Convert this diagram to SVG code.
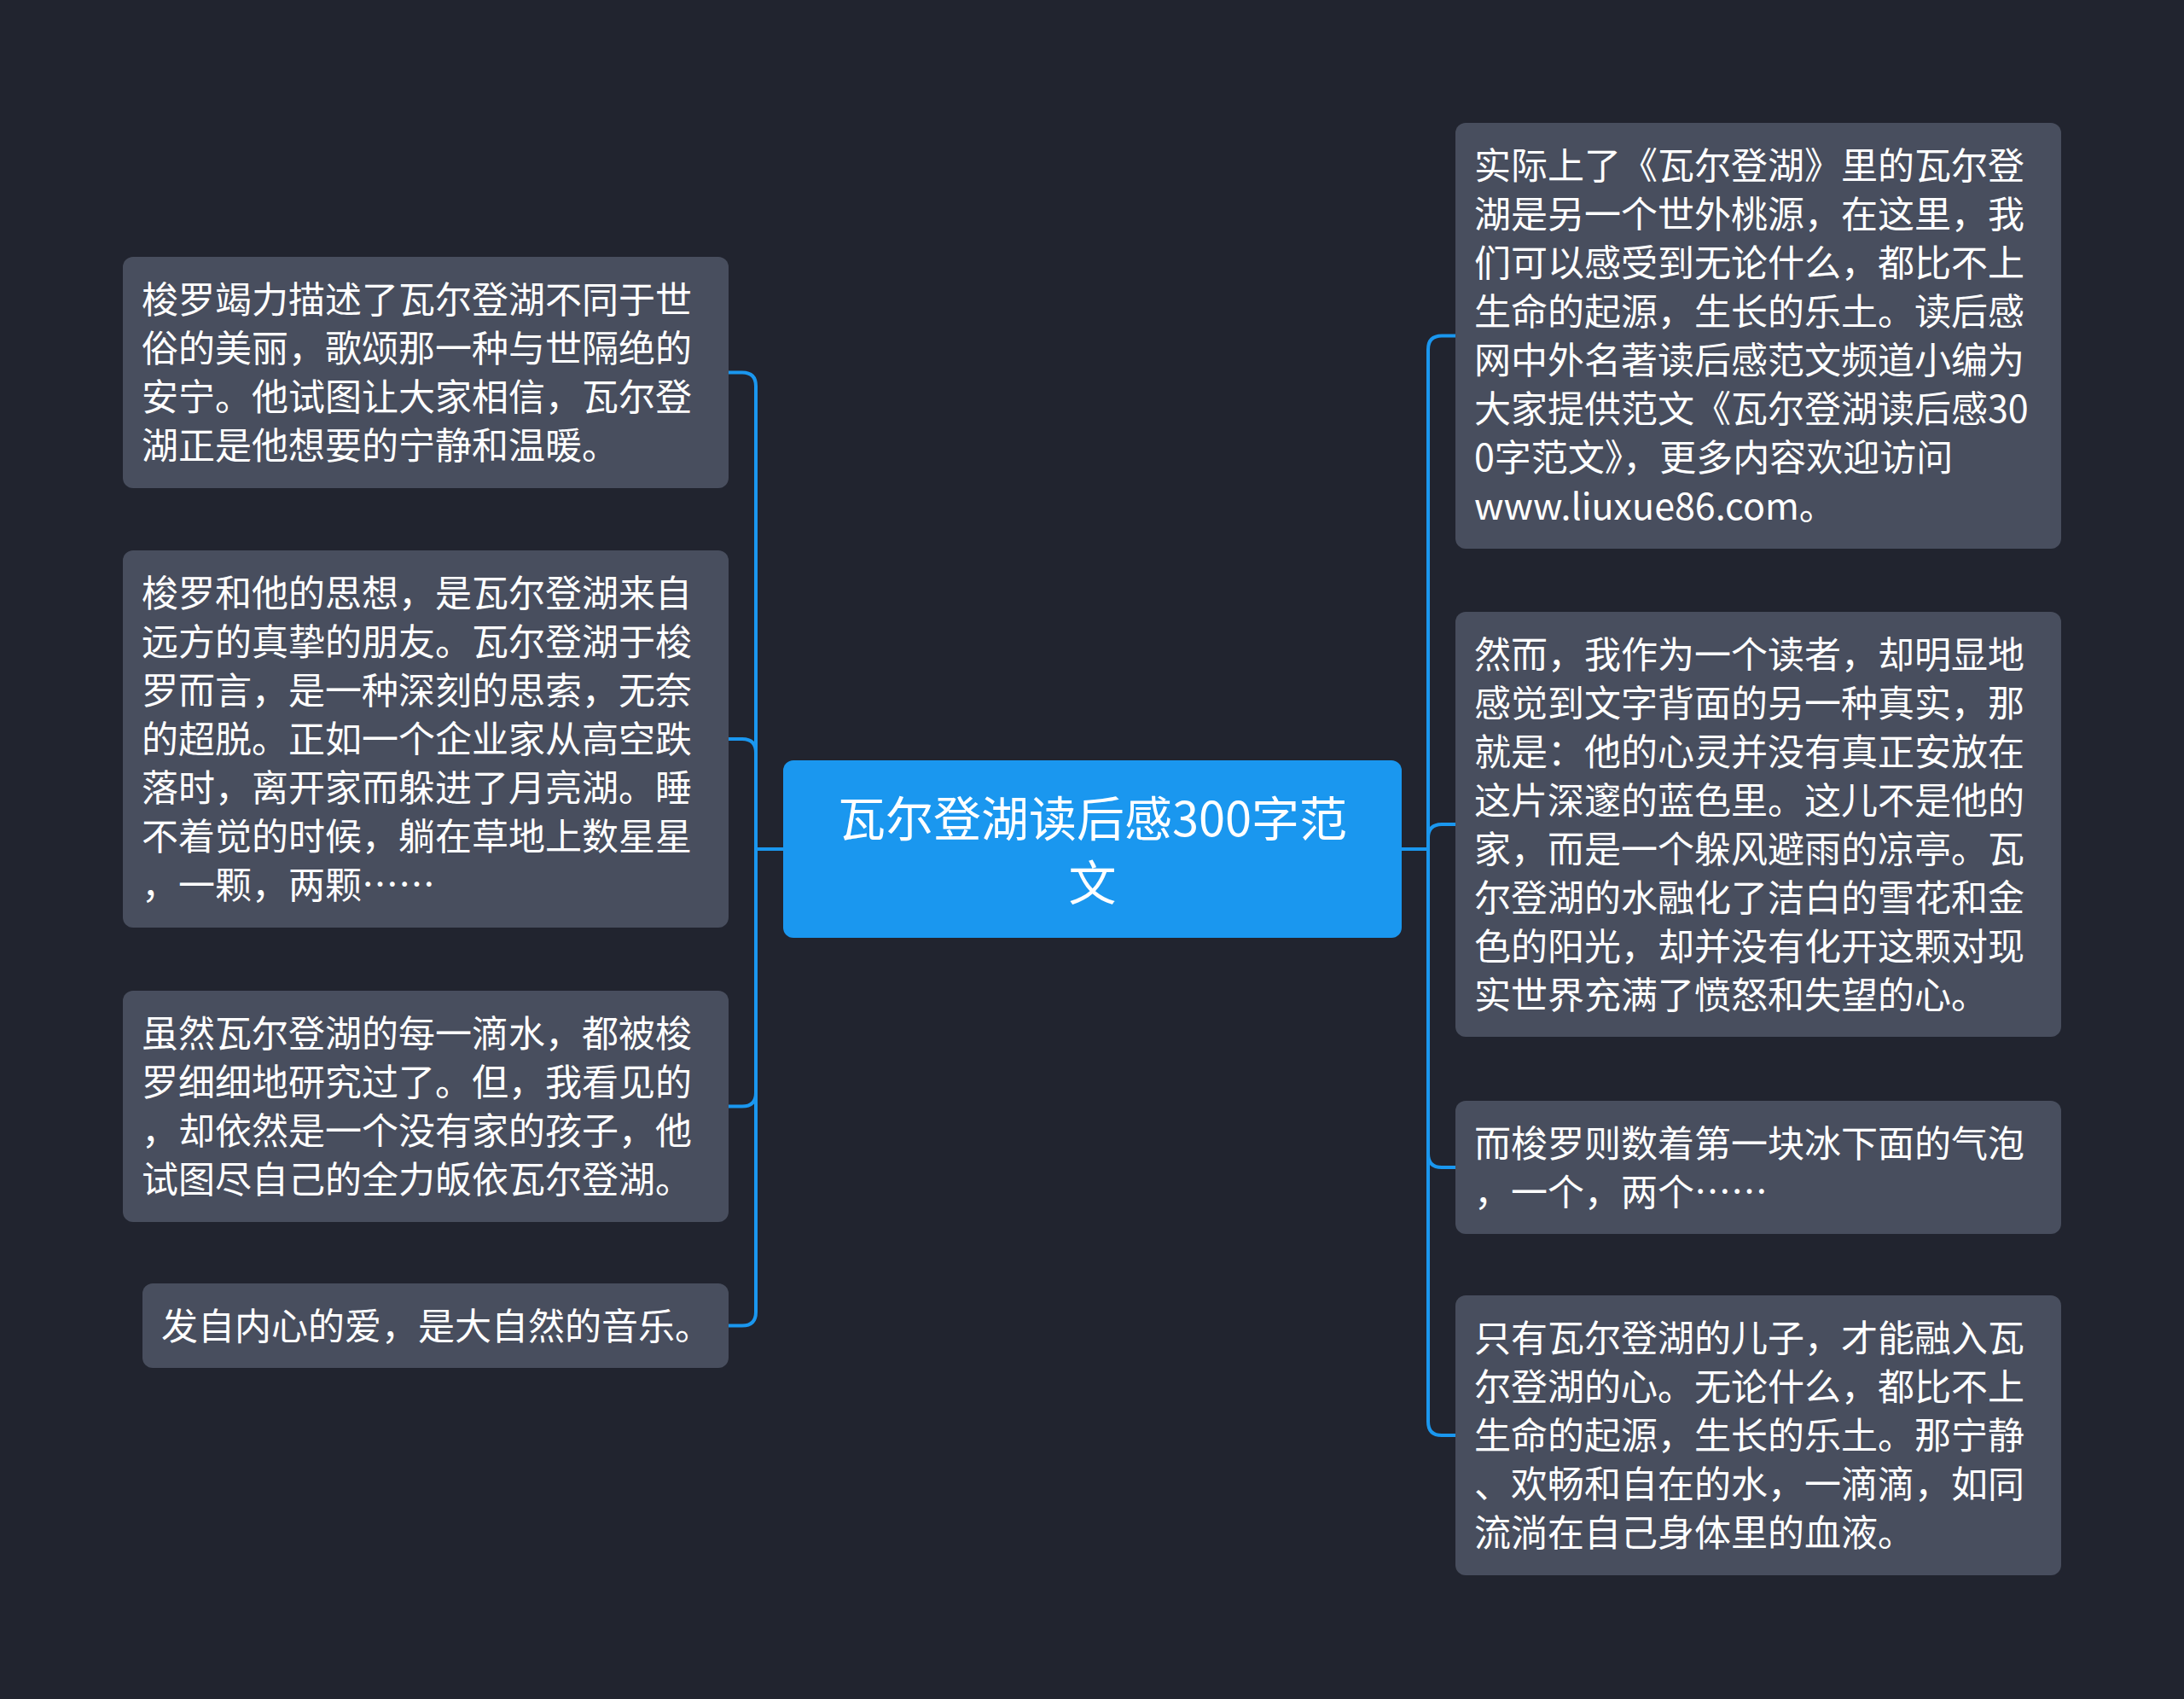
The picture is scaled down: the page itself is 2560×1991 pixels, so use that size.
<svg xmlns="http://www.w3.org/2000/svg" width="2560" height="1991" viewBox="0 0 2560 1991">
<style>
.bg{fill:#21242f}
.node rect{fill:#484e5e}
.node text{fill:#ffffff;font-family:"PingFang SC","Noto Sans CJK SC","Noto Sans",sans-serif;font-size:43px;dominant-baseline:central}
.root rect{fill:#1a97ef}
.root text{fill:#ffffff;font-family:"PingFang SC","Noto Sans CJK SC","Noto Sans",sans-serif;font-size:56px;dominant-baseline:central;text-anchor:middle}
.conn path{fill:none;stroke:#1a97ef;stroke-width:4;stroke-linecap:round}
</style>
<rect class="bg" x="0" y="0" width="2560" height="1991"/>
<g id="connectors" class="conn">
<path d="M918 995 H886 V452.5 Q886 436.5 870 436.5 H854"/>
<path d="M918 995 H886 V882 Q886 866 870 866 H854"/>
<path d="M918 995 H886 V1280.5 Q886 1296.5 870 1296.5 H854"/>
<path d="M918 995 H886 V1537.5 Q886 1553.5 870 1553.5 H854"/>
<path d="M1643 995 H1674 V409.5 Q1674 393.5 1690 393.5 H1706"/>
<path d="M1643 995 H1674 V982 Q1674 966 1690 966 H1706"/>
<path d="M1643 995 H1674 V1352 Q1674 1368 1690 1368 H1706"/>
<path d="M1643 995 H1674 V1666 Q1674 1682 1690 1682 H1706"/>
</g>
<g id="root" class="root">
<rect x="918" y="891" width="725" height="208" rx="12"/>
<text x="1280.5" y="955">瓦尔登湖读后感300字范</text>
<text x="1280.5" y="1030">文</text>
</g>
<g id="L1" class="node">
<rect x="144" y="301" width="710" height="271" rx="12"/>
<text x="166" y="348">梭罗竭力描述了瓦尔登湖不同于世</text>
<text x="166" y="405">俗的美丽，歌颂那一种与世隔绝的</text>
<text x="166" y="462">安宁。他试图让大家相信，瓦尔登</text>
<text x="166" y="519">湖正是他想要的宁静和温暖。</text>
</g>
<g id="L2" class="node">
<rect x="144" y="645" width="710" height="442" rx="12"/>
<text x="166" y="692">梭罗和他的思想，是瓦尔登湖来自</text>
<text x="166" y="749">远方的真挚的朋友。瓦尔登湖于梭</text>
<text x="166" y="806">罗而言，是一种深刻的思索，无奈</text>
<text x="166" y="863">的超脱。正如一个企业家从高空跌</text>
<text x="166" y="920">落时，离开家而躲进了月亮湖。睡</text>
<text x="166" y="977">不着觉的时候，躺在草地上数星星</text>
<text x="166" y="1034">，一颗，两颗……</text>
</g>
<g id="L3" class="node">
<rect x="144" y="1161" width="710" height="271" rx="12"/>
<text x="166" y="1208">虽然瓦尔登湖的每一滴水，都被梭</text>
<text x="166" y="1265">罗细细地研究过了。但，我看见的</text>
<text x="166" y="1322">，却依然是一个没有家的孩子，他</text>
<text x="166" y="1379">试图尽自己的全力皈依瓦尔登湖。</text>
</g>
<g id="L4" class="node">
<rect x="167" y="1504" width="687" height="99" rx="12"/>
<text x="189" y="1550.5">发自内心的爱，是大自然的音乐。</text>
</g>
<g id="R1" class="node">
<rect x="1706" y="144" width="710" height="499" rx="12"/>
<text x="1728" y="191">实际上了《瓦尔登湖》里的瓦尔登</text>
<text x="1728" y="248">湖是另一个世外桃源，在这里，我</text>
<text x="1728" y="305">们可以感受到无论什么，都比不上</text>
<text x="1728" y="362">生命的起源，生长的乐土。读后感</text>
<text x="1728" y="419">网中外名著读后感范文频道小编为</text>
<text x="1728" y="476">大家提供范文《瓦尔登湖读后感30</text>
<text x="1728" y="533">0字范文》，更多内容欢迎访问</text>
<text x="1728" y="590">www.liuxue86.com。</text>
</g>
<g id="R2" class="node">
<rect x="1706" y="717" width="710" height="498" rx="12"/>
<text x="1728" y="763.5">然而，我作为一个读者，却明显地</text>
<text x="1728" y="820.5">感觉到文字背面的另一种真实，那</text>
<text x="1728" y="877.5">就是：他的心灵并没有真正安放在</text>
<text x="1728" y="934.5">这片深邃的蓝色里。这儿不是他的</text>
<text x="1728" y="991.5">家，而是一个躲风避雨的凉亭。瓦</text>
<text x="1728" y="1048.5">尔登湖的水融化了洁白的雪花和金</text>
<text x="1728" y="1105.5">色的阳光，却并没有化开这颗对现</text>
<text x="1728" y="1162.5">实世界充满了愤怒和失望的心。</text>
</g>
<g id="R3" class="node">
<rect x="1706" y="1290" width="710" height="156" rx="12"/>
<text x="1728" y="1336.5">而梭罗则数着第一块冰下面的气泡</text>
<text x="1728" y="1393.5">，一个，两个……</text>
</g>
<g id="R4" class="node">
<rect x="1706" y="1518" width="710" height="328" rx="12"/>
<text x="1728" y="1565">只有瓦尔登湖的儿子，才能融入瓦</text>
<text x="1728" y="1622">尔登湖的心。无论什么，都比不上</text>
<text x="1728" y="1679">生命的起源，生长的乐土。那宁静</text>
<text x="1728" y="1736">、欢畅和自在的水，一滴滴，如同</text>
<text x="1728" y="1793">流淌在自己身体里的血液。</text>
</g>
</svg>
